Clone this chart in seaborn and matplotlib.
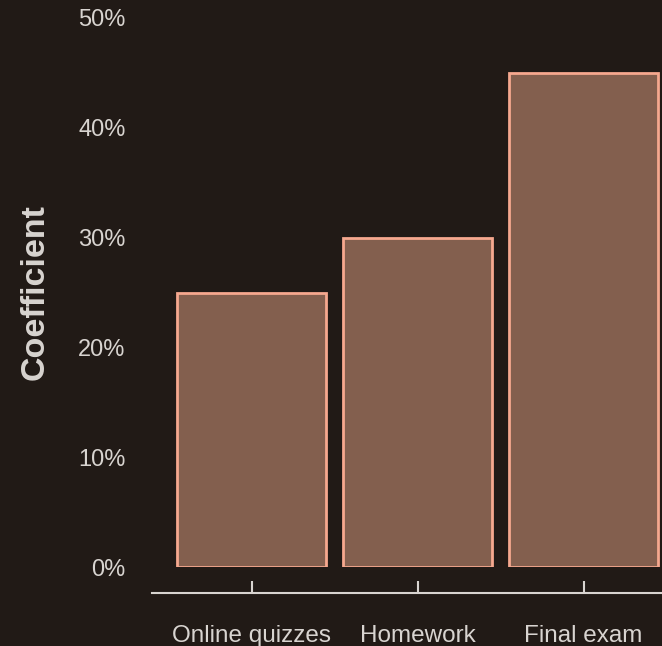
import numpy as np
import pandas as pd
import matplotlib
matplotlib.use("Agg")
import matplotlib.pyplot as plt
import seaborn as sns
from matplotlib.ticker import PercentFormatter

# ============================================================
# Data
# ============================================================

categories = ["Online quizzes", "Homework", "Final exam"]
coefficients = [0.25, 0.30, 0.45]
y_ticks = [0.0, 0.1, 0.2, 0.3, 0.4, 0.5]

BG = "#211a16"
TEXT = "#d8d4d0"
FILL = "#835f4e"
EDGE = "#f6a88f"

# ============================================================
# Plot
# ============================================================

sns.set_theme(style="ticks")
plt.rcParams["font.family"] = ["Liberation Sans", "DejaVu Sans"]

df = pd.DataFrame({"component": categories, "coef": coefficients})

W, H = 662, 646
fig = plt.figure(figsize=(W / 100, H / 100), dpi=100, facecolor=BG)
# axes in pixel coords: x from 152 (-0.6 cat) with 166 px per category, y 0 at 567, 0.5 at 18
left, width = 152, 166 * 3.2
bottom_px, top_px = 567, 18
ax = fig.add_axes([left / W, 1 - bottom_px / H, width / W, (bottom_px - top_px) / H])
ax.set_facecolor(BG)

sns.barplot(data=df, x="component", y="coef", ax=ax, color=FILL,
            edgecolor=EDGE, linewidth=2, width=0.9, saturation=1)

ax.set_xlim(-0.6, 2.6)
ax.set_ylim(0, 0.5)
ax.set_yticks(y_ticks)
ax.yaxis.set_major_formatter(PercentFormatter(1.0, decimals=0))

for s in ["top", "right", "left"]:
    ax.spines[s].set_visible(False)
ax.spines["bottom"].set_position(("outward", 26 * 0.72))
ax.spines["bottom"].set_color(TEXT)
ax.spines["bottom"].set_linewidth(1.5)

ax.tick_params(axis="x", direction="in", length=12 * 0.72, width=1.5,
               color=TEXT, labelcolor=TEXT, labelsize=17.5, pad=23)
ax.tick_params(axis="y", length=0, labelcolor=TEXT, labelsize=17, pad=19)

ax.set_xlabel("")
ax.set_ylabel("Coefficient", color=TEXT, fontsize=24.5, fontweight="bold")
ax.yaxis.set_label_coords((51 - left) / width, 0.5)

fig.savefig("out.png", dpi=100, facecolor=BG)
